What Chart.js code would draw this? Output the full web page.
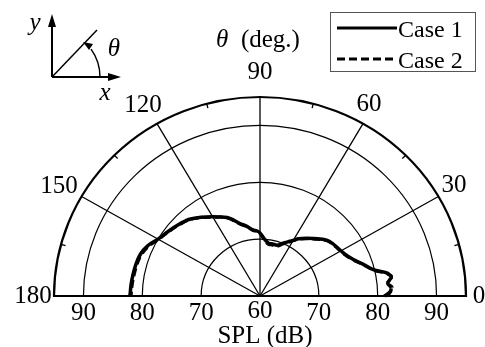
<!DOCTYPE html>
<html>
<head>
<meta charset="utf-8">
<script src="https://cdn.jsdelivr.net/npm/chart.js@4/dist/chart.umd.min.js"></script>
<style>
    html, body { margin: 0; padding: 0; background: #fff; }
    #wrap { width: 485px; height: 347px; position: relative; }
</style>
</head>
<body>
<div id="wrap"><canvas id="polarChart"></canvas></div>
<script>
// Directivity data (theta in degrees, SPL in dB)
const thetaCase1 = [0, 2, 4, 6, 8.5, 10.5, 13.5, 18, 22, 27, 31, 37, 41, 48, 52, 57, 62, 67, 72, 77, 81, 85, 88, 90, 92, 96, 100, 105, 112, 120, 126, 132, 138, 144, 150, 155, 160, 165, 170, 175, 180];
const splCase1 = [81.2, 82.2, 82.4, 81.6, 82.8, 82.0, 79.8, 78.3, 77.1, 76.2, 75.8, 75.4, 75.0, 73.6, 72.9, 72.0, 70.9, 70.1, 69.4, 69.4, 69.4, 69.9, 70.6, 71.1, 71.4, 71.7, 72.4, 73.2, 74.9, 76.1, 77.1, 78.1, 78.7, 79.3, 80.0, 81.0, 81.6, 81.8, 81.9, 82.0, 82.1];
const thetaCase2 = [0, 2, 4, 6, 8.5, 10.5, 13.5, 18, 22, 27, 31, 37, 41, 48, 52, 57, 62, 67, 72, 77, 81, 85, 88, 90, 92, 96, 100, 105, 112, 120, 126, 132, 138, 144, 150, 155, 160, 165, 170, 175, 180];
const splCase2 = [81.1, 82.1, 82.5, 81.8, 82.6, 81.8, 79.7, 78.2, 77.0, 76.1, 75.7, 75.3, 74.9, 73.5, 72.8, 71.9, 70.8, 69.9, 69.2, 69.2, 69.2, 69.7, 70.5, 71.0, 71.3, 71.6, 72.3, 73.1, 74.8, 76.0, 77.0, 78.0, 78.6, 79.2, 79.9, 80.8, 81.4, 81.6, 81.7, 81.8, 81.9];

const splMin = 60;
const splMax = 95;
const ringValues = [70, 80, 90];
const spokeAngles = [30, 60, 90, 120, 150];
const minorAngles = [15, 45, 75, 105, 135, 165];
const angleLabels = ['0', '30', '60', '90', '120', '150', '180'];
const splTickLabels = ['90', '80', '70', '60', '70', '80', '90'];
const splTickValues = [-30, -20, -10, 0, 10, 20, 30];

const FONT = '"Liberation Serif", "Times New Roman", serif';

function toXY(thetas, spls) {
    return thetas.map((t, i) => {
        const r = spls[i] - splMin;
        const a = t * Math.PI / 180;
        return { x: r * Math.cos(a), y: r * Math.sin(a) };
    });
}

// Polar grid + annotations drawn through the chart's scales
const polarGrid = {
    id: 'polarGrid',
    beforeDatasetsDraw(chart) {
        const { ctx, scales: { x, y } } = chart;
        const cx = x.getPixelForValue(0);
        const cy = y.getPixelForValue(0);
        const R = splMax - splMin;
        const rx = v => x.getPixelForValue(v) - cx;
        const ry = v => cy - y.getPixelForValue(v);

        ctx.save();
        ctx.strokeStyle = '#000';

        // inner rings
        ctx.lineWidth = 1.2;
        ringValues.forEach(v => {
            ctx.beginPath();
            ctx.ellipse(cx, cy, rx(v - splMin), ry(v - splMin), 0, Math.PI, 2 * Math.PI);
            ctx.stroke();
        });

        // spokes
        ctx.lineWidth = 1.3;
        spokeAngles.forEach(deg => {
            const a = deg * Math.PI / 180;
            ctx.beginPath();
            ctx.moveTo(cx, cy);
            ctx.lineTo(x.getPixelForValue(R * Math.cos(a)), y.getPixelForValue(R * Math.sin(a)));
            ctx.stroke();
        });

        // minor ticks on the outer arc
        minorAngles.forEach(deg => {
            const a = deg * Math.PI / 180;
            ctx.beginPath();
            ctx.moveTo(x.getPixelForValue(R * Math.cos(a)), y.getPixelForValue(R * Math.sin(a)));
            ctx.lineTo(x.getPixelForValue((R - 0.8) * Math.cos(a)), y.getPixelForValue((R - 0.8) * Math.sin(a)));
            ctx.stroke();
        });

        // outer arc and baseline
        ctx.lineWidth = 2.2;
        ctx.beginPath();
        ctx.ellipse(cx, cy, rx(R), ry(R), 0, Math.PI, 2 * Math.PI);
        ctx.closePath();
        ctx.stroke();
        ctx.restore();
    },
    afterDraw(chart) {
        const { ctx, scales: { x, y } } = chart;
        ctx.save();
        ctx.fillStyle = '#000';
        ctx.font = '25px ' + FONT;
        ctx.textAlign = 'center';
        ctx.textBaseline = 'alphabetic';

        // angle labels
        const labelPos = [[479, 303], [454, 192], [369, 111], [260, 79], [143, 112], [59, 193], [33, 303]];
        angleLabels.forEach((t, i) => ctx.fillText(t, labelPos[i][0], labelPos[i][1]));

        // SPL tick labels along the baseline
        splTickLabels.forEach((t, i) => {
            ctx.fillText(t, x.getPixelForValue(splTickValues[i]), splTickValues[i] === 0 ? 318 : 320);
        });
        ctx.fillText('SPL (dB)', 265, 343);

        // theta (deg.) title
        ctx.font = 'italic 25px ' + FONT;
        const wTheta = ctx.measureText('\u03b8').width;
        ctx.font = '25px ' + FONT;
        const wRest = ctx.measureText('  (deg.)').width;
        const startX = 258 - (wTheta + wRest) / 2;
        ctx.textAlign = 'left';
        ctx.font = 'italic 25px ' + FONT;
        ctx.fillText('\u03b8', startX, 47);
        ctx.font = '25px ' + FONT;
        ctx.fillText('  (deg.)', startX + wTheta, 47);

        // inset coordinate sketch
        ctx.strokeStyle = '#000';
        ctx.lineWidth = 2;
        const ox = 52, oy = 77;
        ctx.beginPath();
        ctx.moveTo(ox, oy); ctx.lineTo(ox, 22);
        ctx.moveTo(ox, oy); ctx.lineTo(112, oy);
        ctx.stroke();
        ctx.lineWidth = 1.5;
        ctx.beginPath();
        ctx.moveTo(ox, oy); ctx.lineTo(97, 30);
        ctx.stroke();
        // arrow heads
        ctx.beginPath();
        ctx.moveTo(ox, 14); ctx.lineTo(ox - 4, 27); ctx.lineTo(ox + 4, 27); ctx.closePath();
        ctx.moveTo(121, oy); ctx.lineTo(108, oy - 4); ctx.lineTo(108, oy + 4); ctx.closePath();
        ctx.fill();
        // angle arc
        ctx.lineWidth = 1.5;
        ctx.beginPath();
        ctx.arc(ox, oy, 48, 0, -0.62, true);
        ctx.stroke();
        ctx.beginPath();
        ctx.moveTo(83, 42); ctx.lineTo(93, 44); ctx.lineTo(89, 50); ctx.closePath();
        ctx.fill();
        ctx.font = 'italic 25px ' + FONT;
        ctx.textAlign = 'center';
        ctx.fillText('y', 35, 30);
        ctx.fillText('x', 105, 100);
        ctx.fillText('\u03b8', 114, 56);

        // legend box
        ctx.lineWidth = 1;
        ctx.strokeStyle = '#555';
        ctx.strokeRect(330.5, 12.5, 145, 59);
        chart.data.datasets.forEach((ds, i) => {
            const ly = 28 + i * 31;
            ctx.strokeStyle = ds.borderColor;
            ctx.lineWidth = 3;
            ctx.setLineDash(ds.borderDash || []);
            ctx.beginPath();
            ctx.moveTo(337, ly); ctx.lineTo(397, ly);
            ctx.stroke();
            ctx.setLineDash([]);
            ctx.font = '24px ' + FONT;
            ctx.textAlign = 'left';
            ctx.fillText(ds.label, 398, ly + 9);
        });
        ctx.restore();
    }
};

new Chart(document.getElementById('polarChart'), {
    type: 'scatter',
    data: {
        datasets: [{
            label: 'Case 1',
            data: toXY(thetaCase1, splCase1),
            showLine: true,
            borderColor: '#000',
            borderWidth: 3.5,
            pointRadius: 0,
            cubicInterpolationMode: 'monotone',
            clip: false
        }, {
            label: 'Case 2',
            data: toXY(thetaCase2, splCase2),
            showLine: true,
            borderColor: '#000',
            borderWidth: 3,
            borderDash: [8, 4],
            pointRadius: 0,
            tension: 0.4,
            clip: false
        }]
    },
    options: {
        responsive: true,
        maintainAspectRatio: false,
        animation: false,
        layout: { padding: { left: 54, right: 19, top: 97, bottom: 51 } },
        scales: {
            x: { type: 'linear', min: -35, max: 35, display: false },
            y: { type: 'linear', min: 0, max: 35, display: false }
        },
        plugins: {
            legend: { display: false },
            tooltip: { enabled: false }
        }
    },
    plugins: [polarGrid]
});
</script>
</body>
</html>
